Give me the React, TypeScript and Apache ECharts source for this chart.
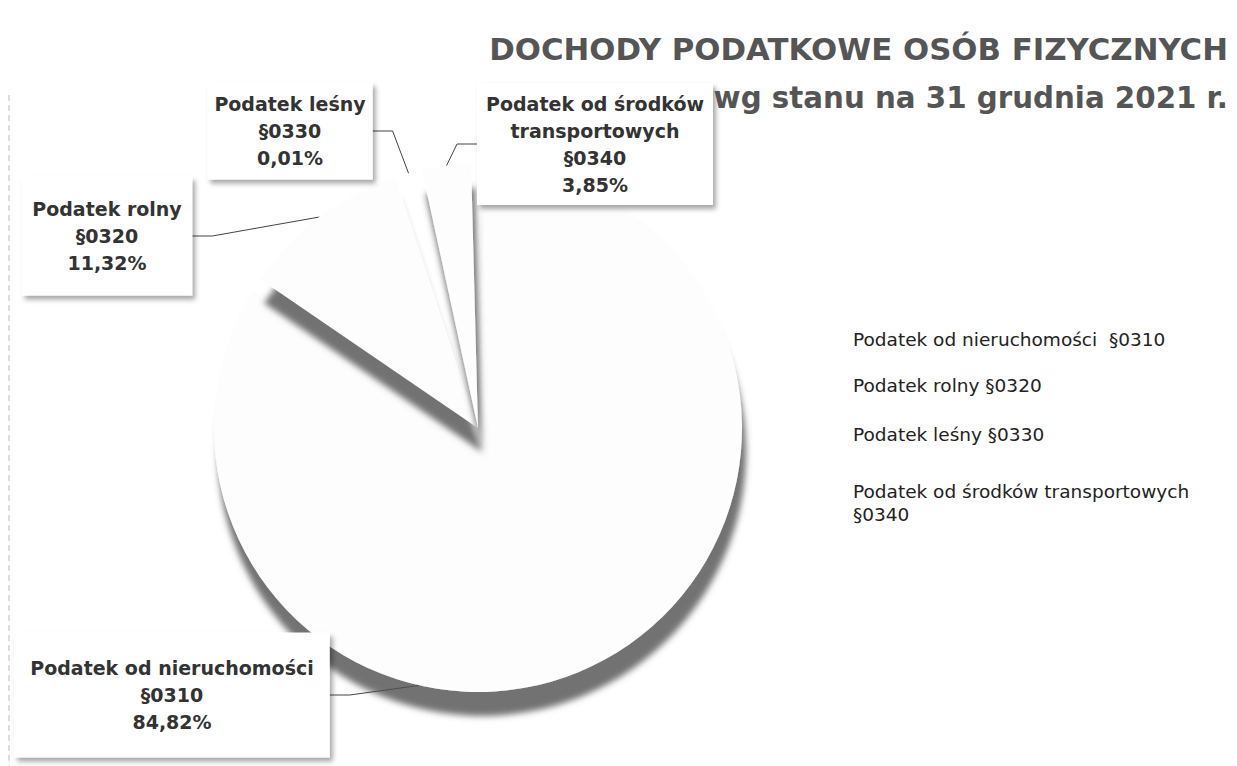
import React, { useEffect, useRef } from "react";
import * as echarts from "echarts";

const categories = [
  "Podatek od nieruchomości §0310",
  "Podatek rolny §0320",
  "Podatek leśny §0330",
  "Podatek od środków transportowych §0340",
];
const labelTitles = [
  "Podatek od nieruchomości\n§0310",
  "Podatek rolny\n§0320",
  "Podatek leśny\n§0330",
  "Podatek od środków\ntransportowych\n§0340",
];
const legendTexts = [
  "Podatek od nieruchomości  §0310",
  "Podatek rolny §0320",
  "Podatek leśny §0330",
  "Podatek od środków transportowych\n§0340",
];
const shares = [84.82, 11.32, 0.01, 3.85];
const titleText = "DOCHODY PODATKOWE OSÓB FIZYCZNYCH";
const subtitleText = "wg stanu na 31 grudnia 2021 r.";

const FONT = "DejaVu Sans";
// label box centres and paddings (layout only)
const labelPos = [
  [172, 695],
  [107, 236],
  [290, 131],
  [595, 144],
];
const labelPad = [
  [22, 16],
  [19, 12],
  [8, 7],
  [7, 9],
];
const legendTops = [323, 369, 418, 475];

export default function App() {
  const ref = useRef<HTMLDivElement>(null);
  useEffect(() => {
    if (!ref.current) return;
    const chart = echarts.init(ref.current, null, { renderer: "svg" });
    const fmt = (v: number) => v.toFixed(2).replace(".", ",") + "%";
    chart.setOption({
      animation: false,
      backgroundColor: "#ffffff",
      title: [
        {
          text: titleText,
          right: 4,
          top: 28,
          textStyle: { fontFamily: FONT, fontSize: 30.8, fontWeight: "bold", color: "#555555" },
        },
        {
          text: subtitleText,
          right: 4,
          top: 78,
          textStyle: { fontFamily: FONT, fontSize: 29.3, fontWeight: "bold", color: "#555555" },
        },
      ],
      legend: categories.map((name, i) => ({
        orient: "vertical",
        left: 843,
        top: legendTops[i],
        itemWidth: 0,
        itemHeight: 0,
        icon: "rect",
        selectedMode: false,
        data: [name],
        formatter: (n: string) => legendTexts[categories.indexOf(n)],
        textStyle: { fontFamily: FONT, fontSize: 18.5, color: "#222222", lineHeight: 23 },
      })),
      graphic: [
        {
          type: "line",
          shape: { x1: 9, y1: 95, x2: 9, y2: 766 },
          style: { stroke: "#bbbbbb", lineWidth: 1, lineDash: [6, 4] },
          silent: true,
        },
      ],
      series: [
        {
          type: "pie",
          center: [478, 428],
          radius: [0, 264],
          startAngle: 90,
          clockwise: true,
          padAngle: 3,
          silent: true,
          emphasis: { disabled: true },
          itemStyle: {
            color: "#fdfdfd",
            shadowBlur: 6,
            shadowColor: "rgba(80,80,80,0.8)",
            shadowOffsetX: 4,
            shadowOffsetY: 24,
          },
          label: {
            show: true,
            formatter: (p: any) => labelTitles[p.dataIndex] + "\n" + fmt(p.value),
            fontFamily: FONT,
            fontSize: 19,
            fontWeight: "bold",
            color: "#333333",
            lineHeight: 27,
            align: "center",
            overflow: "none",
            backgroundColor: "#ffffff",
            shadowColor: "rgba(0,0,0,0.35)",
            shadowBlur: 5,
            shadowOffsetX: 3,
            shadowOffsetY: 4,
          },
          labelLine: {
            show: true,
            length: 20,
            length2: 20,
            lineStyle: { color: "#444444", width: 1 },
          },
          labelLayout: (params: any) => {
            const p = labelPos[params.dataIndex];
            return { x: p[0], y: p[1], align: "center", verticalAlign: "middle" };
          },
          data: categories.map((name, i) => ({
            name,
            value: shares[i],
            label: { padding: labelPad[i] },
          })),
        },
      ],
    });
    return () => chart.dispose();
  }, []);
  return (
    <div
      ref={ref}
      style={{ position: "fixed", left: 0, top: 0, width: "1237px", height: "766px" }}
    />
  );
}
